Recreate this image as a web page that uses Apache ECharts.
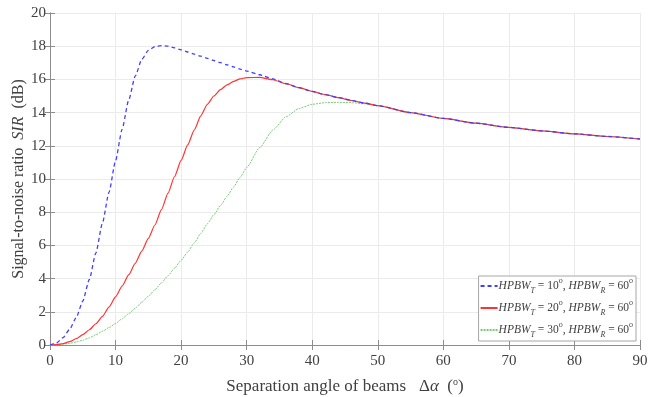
<!DOCTYPE html>
<html>
<head>
<meta charset="utf-8">
<script src="https://cdn.jsdelivr.net/npm/echarts@6/dist/echarts.min.js"></script>
<style>
  html, body { margin: 0; padding: 0; background: #fff; }
  #chart { width: 652px; height: 397px; }
</style>
</head>
<body>
<div id="chart"></div>
<script>
// separation angle (deg)
const angles = [
  0, 1, 2, 3, 4, 5, 6, 7, 8, 9, 10, 11, 12, 13, 14, 15, 16, 17, 18, 19, 20,
  21, 22, 23, 24, 25, 26, 27, 28, 29, 30, 32, 34, 36, 38, 40, 42, 44, 46, 48, 50,
  55, 60, 65, 70, 75, 80, 85, 90
];

const sirT10 = [
  0, 0.12, 0.45, 0.95, 1.65, 2.65, 3.95, 5.55, 7.35, 9.2, 11.1, 13.0, 14.75, 16.2, 17.2, 17.75, 17.97, 18.03, 18.0, 17.9, 17.78,
  17.65, 17.52, 17.4, 17.27, 17.14, 17.01, 16.88, 16.75, 16.62, 16.5, 16.28, 16.03, 15.75, 15.5, 15.28, 15.08, 14.9, 14.73, 14.57, 14.42,
  14.0, 13.65, 13.36, 13.11, 12.9, 12.72, 12.56, 12.41
];

const sirT20 = [
  0, 0.02, 0.08, 0.2, 0.38, 0.62, 0.92, 1.28, 1.72, 2.28, 2.9, 3.55, 4.22, 4.92, 5.65, 6.42, 7.23, 8.15, 9.15, 10.15, 11.12,
  12.05, 12.95, 13.8, 14.5, 15.0, 15.38, 15.67, 15.88, 16.03, 16.11, 16.12, 15.98, 15.74, 15.5, 15.28, 15.08, 14.9, 14.73, 14.57, 14.42,
  14.0, 13.65, 13.36, 13.11, 12.9, 12.72, 12.56, 12.41
];

const sirT30 = [
  0, 0.01, 0.05, 0.1, 0.18, 0.29, 0.43, 0.62, 0.83, 1.05, 1.3, 1.58, 1.88, 2.22, 2.57, 2.94, 3.33, 3.74, 4.17, 4.63, 5.1,
  5.6, 6.15, 6.72, 7.3, 7.85, 8.4, 8.95, 9.52, 10.1, 10.7, 11.9, 12.95, 13.75, 14.25, 14.5, 14.6, 14.62, 14.6, 14.53, 14.42,
  14.0, 13.65, 13.36, 13.11, 12.9, 12.72, 12.56, 12.41
];

const xTicks = [0, 10, 20, 30, 40, 50, 60, 70, 80, 90];
const yTicks = [0, 2, 4, 6, 8, 10, 12, 14, 16, 18, 20];

const legendLabels = [
  ['T', '10', 'R', '60'],
  ['T', '20', 'R', '60'],
  ['T', '30', 'R', '60'],
];

const serif = 'Liberation Serif';
const axisColor = '#8c8c8c';
const textColor = '#404040';

const pairs = (vals) => angles.map((a, i) => [a, vals[i]]);
const legendName = (p) =>
  '{i|HPBW}{sub|' + p[0] + '}{n| = ' + p[1] + '}{sup|o}{n|, }{i|HPBW}{sub|' + p[2] + '}{n| = ' + p[3] + '}{sup|o}';

const chart = echarts.init(document.getElementById('chart'), null, { renderer: 'canvas' });

const baseX = {
  type: 'value',
  min: xTicks[0],
  max: xTicks[xTicks.length - 1],
  interval: 10,
  axisLine: { show: true, lineStyle: { color: axisColor, width: 1 } },
  axisTick: { show: true, inside: true, length: 5, lineStyle: { color: axisColor } },
};
const baseY = {
  type: 'value',
  min: yTicks[0],
  max: yTicks[yTicks.length - 1],
  interval: 2,
  axisLine: { show: true, lineStyle: { color: axisColor, width: 1 } },
  axisTick: { show: true, inside: true, length: 5, lineStyle: { color: axisColor } },
};

chart.setOption({
  animation: false,
  textStyle: { fontFamily: serif },
  grid: { left: 50, right: 12, top: 13, bottom: 52, outerBoundsMode: 'none', containLabel: false },
  xAxis: [
    Object.assign({}, baseX, {
      position: 'bottom',
      axisLabel: { color: textColor, fontFamily: serif, fontSize: 15, margin: 9 },
      splitLine: { show: true, lineStyle: { color: '#ebebeb', width: 1 } },
      name: '{n|Separation angle of beams   }{g|Δ}{i|α}{n|  (}{sup|o}{n|)}',
      nameLocation: 'middle',
      nameGap: 32,
      nameMoveOverlap: false,
      nameTextStyle: {
        fontFamily: serif,
        rich: {
          n: { fontFamily: serif, fontSize: 17, color: textColor, lineHeight: 20 },
          g: { fontFamily: serif, fontSize: 17, color: textColor, lineHeight: 20 },
          i: { fontFamily: serif, fontSize: 17, fontStyle: 'italic', color: textColor, lineHeight: 20 },
          sup: { fontFamily: serif, fontSize: 10, color: textColor, verticalAlign: 'top', lineHeight: 12 },
        },
      },
    }),
    Object.assign({}, baseX, {
      position: 'top',
      axisLabel: { show: false },
      splitLine: { show: false },
    }),
  ],
  yAxis: [
    Object.assign({}, baseY, {
      position: 'left',
      axisLabel: { color: textColor, fontFamily: serif, fontSize: 15, margin: 4 },
      splitLine: { show: true, lineStyle: { color: '#ebebeb', width: 1 } },
      name: '{n|Signal-to-noise ratio  }{i|SIR}{n|  (dB)}',
      nameLocation: 'middle',
      nameGap: 23,
      nameMoveOverlap: false,
      nameTextStyle: {
        fontFamily: serif,
        rich: {
          n: { fontFamily: serif, fontSize: 16, color: textColor },
          i: { fontFamily: serif, fontSize: 16, fontStyle: 'italic', color: textColor },
        },
      },
    }),
    Object.assign({}, baseY, {
      position: 'right',
      axisLabel: { show: false },
      splitLine: { show: false },
    }),
  ],
  legend: {
    orient: 'vertical',
    right: 16,
    bottom: 56,
    itemWidth: 17,
    itemHeight: 10,
    itemGap: 4,
    padding: [1, 3, 2, 1],
    borderColor: '#a6a6a6',
    borderWidth: 1,
    backgroundColor: '#fff',
    borderRadius: 0,
    itemStyle: { opacity: 0 },
    formatter: (name) => name,
    textStyle: {
      fontFamily: serif,
      padding: [0, 0, 0, -4],
      rich: {
        i: { fontFamily: serif, fontSize: 11.5, fontStyle: 'italic', color: textColor, lineHeight: 18 },
        n: { fontFamily: serif, fontSize: 11.5, color: textColor, lineHeight: 18 },
        sub: { fontFamily: serif, fontSize: 8, fontStyle: 'italic', color: textColor, verticalAlign: 'bottom', lineHeight: 12, padding: [7, 0, 0, 0] },
        sup: { fontFamily: serif, fontSize: 8, color: textColor, verticalAlign: 'top', lineHeight: 12, padding: [0, 0, 6, 0] },
      },
    },
    data: legendLabels.map(legendName),
  },
  series: [
    {
      name: legendName(legendLabels[0]),
      type: 'line',
      data: pairs(sirT10),
      symbol: 'none',
      showSymbol: false,
      smooth: 0.2,
      smoothMonotone: 'x',
      z: 3,
      lineStyle: { color: '#4040ff', width: 1.3, type: [4, 3] },
      itemStyle: { color: '#4040ff' },
    },
    {
      name: legendName(legendLabels[1]),
      type: 'line',
      data: pairs(sirT20),
      symbol: 'none',
      showSymbol: false,
      smooth: 0.2,
      smoothMonotone: 'x',
      z: 2,
      lineStyle: { color: '#ff3333', width: 1.2 },
      itemStyle: { color: '#ff3333' },
    },
    {
      name: legendName(legendLabels[2]),
      type: 'line',
      data: pairs(sirT30),
      symbol: 'none',
      showSymbol: false,
      smooth: 0.2,
      smoothMonotone: 'x',
      z: 1,
      lineStyle: { color: '#77cc77', width: 1, type: [2, 1] },
      itemStyle: { color: '#77cc77' },
    },
  ],
});
</script>
</body>
</html>
